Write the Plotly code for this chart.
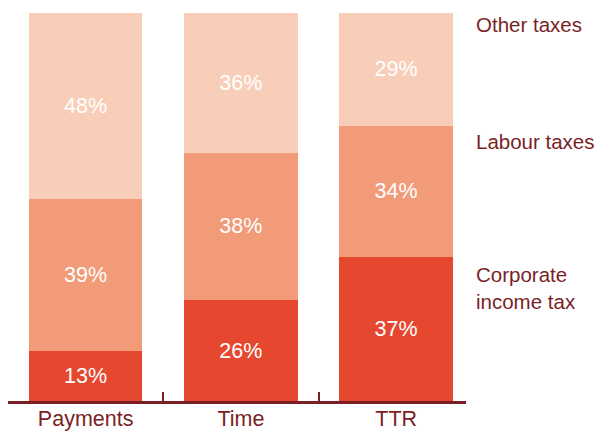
import plotly.graph_objects as go

categories = ["Payments", "Time", "TTR"]
corporate = [13, 26, 37]
labour = [39, 38, 34]
other = [48, 36, 29]

series_names = ["Corporate<br>income tax", "Labour taxes", "Other taxes"]
series_colors = ["#E5472F", "#F19B78", "#F9CEB8"]
label_y = [29, 67, 97]

maroon = "#7B1F27"
font = "Liberation Sans, Arial, Helvetica, sans-serif"
fsize = 21.5

fig = go.Figure()
for vals, name, col in zip([corporate, labour, other], series_names, series_colors):
    fig.add_trace(go.Bar(
        x=list(range(len(categories))), y=vals, name=name,
        marker=dict(color=col, line=dict(width=0)),
        text=[f"{v}%" for v in vals], textposition="inside",
        insidetextanchor="middle",
        textfont=dict(color="white", size=fsize, family=font),
        width=0.73,
    ))

#labels on the right side instead of a legend
for name, yv in zip(series_names, label_y):
    fig.add_annotation(
        x=1.02, xref="paper", y=yv, yref="y", text=name, showarrow=False,
        xanchor="left", align="left", borderpad=0,
        font=dict(color=maroon, size=20.5, family=font),
    )

#page body has an 8px margin, so the figure is a bit smaller than the window
fig.update_layout(
    barmode="stack",
    showlegend=False,
    width=595, height=423,
    plot_bgcolor="white", paper_bgcolor="white",
    margin=dict(l=0, r=137, t=5, b=30, autoexpand=False),
    font=dict(family=font, color=maroon, size=fsize),
)
fig.update_xaxes(
    range=[-0.5, 2.45], tickvals=[0, 1, 2], ticktext=categories,
    showline=True, linecolor=maroon, linewidth=2.5, ticks="",
    showgrid=False, zeroline=False, automargin=False,
    ticklabelstandoff=-4,
    tickfont=dict(color=maroon, size=fsize, family=font),
    minor=dict(tickvals=[0.5, 1.5], ticks="inside", ticklen=9,
               tickcolor=maroon, tickwidth=2, showgrid=False),
)
fig.update_yaxes(range=[0, 100], visible=False, showgrid=False, automargin=False)

fig.write_html("out.html")
